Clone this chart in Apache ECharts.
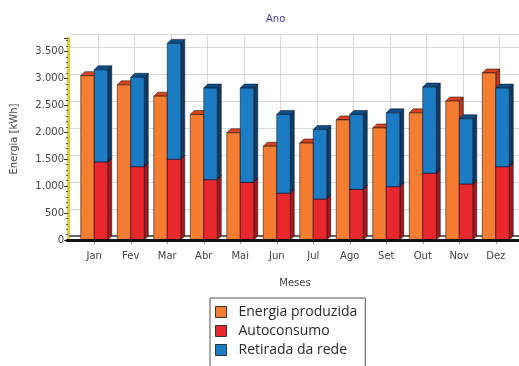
<!DOCTYPE html>
<html>
<head>
<meta charset="utf-8">
<script src="https://cdn.jsdelivr.net/npm/echarts@6/dist/echarts.min.js"></script>
<style>
  html, body { margin: 0; padding: 0; background: #ffffff; }
  #chart { width: 519px; height: 366px; }
</style>
</head>
<body>
<div id="chart"></div>
<script>
// Monthly energy balance (kWh)
const months = ['Jan', 'Fev', 'Mar', 'Abr', 'Mai', 'Jun', 'Jul', 'Ago', 'Set', 'Out', 'Nov', 'Dez'];
const energiaProduzida = [3050, 2880, 2670, 2330, 1990, 1740, 1800, 2230, 2080, 2360, 2580, 3100];
const autoconsumo      = [1450, 1360, 1500, 1120, 1070,  870,  760,  940,  990, 1240, 1040, 1360];
const retiradaDaRede   = [1710, 1660, 2150, 1700, 1750, 1460, 1290, 1390, 1370, 1600, 1210, 1460];
const yTicks = [0, 500, 1000, 1500, 2000, 2500, 3000, 3500];

const DEPTH = 4;      // pseudo-3D depth in px
const BAR_W = 13.5;   // front face width in px

const palette = {
  prod: { front: '#f47d32', top: '#d9441f', side: '#c0361a' },
  auto: { front: '#e8282c', top: '#c01f22', side: '#a8171b' },
  rede: { front: '#1b7cc3', top: '#0c4f8a', side: '#0a3b6b' }
};

function box(pal, offset) {
  return function (params, api) {
    const i = api.value(0);
    const base = api.coord([i, api.value(1)]);
    const top = api.coord([i, api.value(2)]);
    const x0 = base[0] + offset, x1 = x0 + BAR_W;
    const yb = base[1], yt = top[1], d = DEPTH;
    const edge = { stroke: 'rgba(10,10,20,0.75)', lineWidth: 0.7 };
    return {
      type: 'group',
      children: [
        { type: 'polygon', shape: { points: [[x1, yt], [x1 + d, yt - d], [x1 + d, yb - d], [x1, yb]] },
          style: Object.assign({ fill: pal.side }, edge) },
        { type: 'polygon', shape: { points: [[x0, yt], [x1, yt], [x1 + d, yt - d], [x0 + d, yt - d]] },
          style: Object.assign({ fill: pal.top }, edge) },
        { type: 'rect', shape: { x: x0, y: yt, width: BAR_W, height: yb - yt },
          style: Object.assign({ fill: pal.front }, edge) }
      ]
    };
  };
}

const prodData = months.map((m, i) => [i, 0, energiaProduzida[i]]);
const autoData = months.map((m, i) => [i, 0, autoconsumo[i]]);
const redeData = months.map((m, i) => [i, autoconsumo[i], autoconsumo[i] + retiradaDaRede[i]]);

const fmt = v => v >= 1000 ? String(v).replace(/(\d)(\d{3})$/, '$1.$2') : String(v);
const textFont = 'DejaVu Sans';

const chart = echarts.init(document.getElementById('chart'), null, { renderer: 'canvas' });
chart.setOption({
  animation: false,
  backgroundColor: '#ffffff',
  title: {
    text: 'Ano', left: 261, top: 9,
    textStyle: { fontSize: 10, fontWeight: 'normal', color: '#3b3bb0', fontFamily: textFont }
  },
  legend: {
    orient: 'vertical', left: 210, top: 298, height: 90,
    padding: [7, 8, 14, 5], itemGap: 5,
    borderColor: '#555', borderWidth: 1,
    itemWidth: 11, itemHeight: 11, icon: 'rect',
    itemStyle: { borderColor: '#333', borderWidth: 1 },
    textStyle: { fontSize: 14, color: '#2a2a2a', fontFamily: 'Open Sans', padding: [0, 0, 0, 7] },
    data: ['Energia produzida', 'Autoconsumo', 'Retirada da rede']
  },
  grid: [
    { left: 76, right: 5, top: 38, bottom: 126 },   // bars
    { left: 70, right: 0, top: 34, bottom: 130 },   // back wall, horizontal lines
    { left: 98, width: 401.5, top: 34, bottom: 130 }, // back wall, vertical lines
    { left: 67, right: 0, top: 38, bottom: 126 }    // floor edge
  ],
  xAxis: [
    { gridIndex: 0, type: 'category', data: months,
      axisLine: { show: false },
      axisTick: { show: true, alignWithLabel: true, length: 4, lineStyle: { color: '#999' } },
      axisLabel: { fontSize: 10, color: '#444', margin: 11, fontFamily: textFont },
      name: 'Meses', nameLocation: 'middle', nameGap: 38,
      nameTextStyle: { fontSize: 10, color: '#444', fontFamily: textFont } },
    { gridIndex: 1, type: 'category', data: months, position: 'top',
      axisLine: { show: true, lineStyle: { color: '#666', width: 2 } },
      axisTick: { show: false }, axisLabel: { show: false } },
    { gridIndex: 2, type: 'value', min: 0, max: 11, interval: 1,
      axisLine: { show: false }, axisTick: { show: false }, axisLabel: { show: false },
      splitLine: { show: true, lineStyle: { color: '#d9d9d9', width: 1 } } },
    { gridIndex: 3, type: 'category', data: months, z: 10,
      axisLine: { show: true, lineStyle: { color: '#111', width: 3 } },
      axisTick: { show: false }, axisLabel: { show: false } }
  ],
  yAxis: [
    { gridIndex: 0, type: 'value', min: 0, max: 3750, interval: 500, offset: 8,
      axisLine: { show: true, lineStyle: { color: '#d6cf3a', width: 3 } },
      axisTick: { show: true, length: 4, lineStyle: { color: '#333' } },
      minorTick: { show: true, splitNumber: 5, length: 2, lineStyle: { color: '#555' } },
      axisLabel: { fontSize: 10, color: '#444', margin: 4, fontFamily: textFont, showMaxLabel: false,
        formatter: v => yTicks.includes(v) ? fmt(v) : '' },
      splitLine: { show: false },
      name: 'Energia [kWh]', nameLocation: 'middle', nameGap: 49,
      nameTextStyle: { fontSize: 10, color: '#444', fontFamily: textFont } },
    { gridIndex: 1, type: 'value', min: 0, max: 3750, interval: 500,
      axisLine: { show: false }, axisTick: { show: false }, axisLabel: { show: false },
      splitLine: { show: true, lineStyle: { color: '#d9d9d9', width: 1 } } },
    { gridIndex: 2, type: 'value', min: 0, max: 1, show: false },
    { gridIndex: 3, type: 'value', min: 0, max: 1, show: false }
  ],
  series: [
    { name: 'Energia produzida', type: 'custom', xAxisIndex: 0, yAxisIndex: 0,
      itemStyle: { color: palette.prod.front },
      renderItem: box(palette.prod, -BAR_W), encode: { x: 0, y: [1, 2] }, data: prodData },
    { name: 'Autoconsumo', type: 'custom', xAxisIndex: 0, yAxisIndex: 0,
      itemStyle: { color: palette.auto.front },
      renderItem: box(palette.auto, 0), encode: { x: 0, y: [1, 2] }, data: autoData },
    { name: 'Retirada da rede', type: 'custom', xAxisIndex: 0, yAxisIndex: 0,
      itemStyle: { color: palette.rede.front },
      renderItem: box(palette.rede, 0), encode: { x: 0, y: [1, 2] }, data: redeData }
  ]
});
</script>
</body>
</html>
